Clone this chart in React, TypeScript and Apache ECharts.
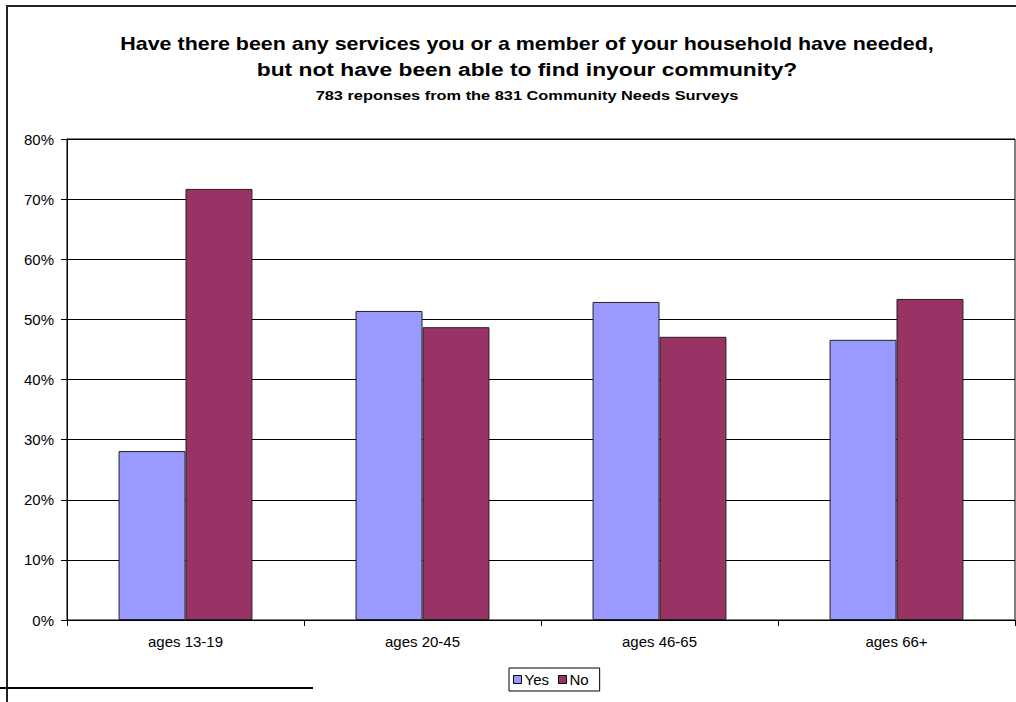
import React, { useEffect, useRef } from "react";
import * as echarts from "echarts";

const categories = ["ages 13-19", "ages 20-45", "ages 46-65", "ages 66+"];
const yesValues = [28.1, 51.4, 52.9, 46.6];
const noValues = [71.7, 48.7, 47.1, 53.4];
const titleLine1 = "Have there been any services you or a member of your household have needed,";
const titleLine2 = "but not have been able to find inyour community?";
const subtitle = "783 reponses from the 831 Community Needs Surveys";

const FONT = "'Liberation Sans', Arial, sans-serif";

export default function App() {
  const ref = useRef<HTMLDivElement>(null);
  useEffect(() => {
    if (!ref.current) return;
    const chart = echarts.init(ref.current, undefined, { renderer: "svg" });
    const titleText = (text: string, y: number, size: number, sx: number) => ({
      type: "text",
      x: 527,
      y,
      scaleX: sx,
      style: {
        text,
        fontFamily: FONT,
        fontSize: size,
        fontWeight: "bold",
        fill: "#000",
        textAlign: "center",
        textVerticalAlign: "middle",
      },
    });
    chart.setOption({
      animation: false,
      backgroundColor: "#fff",
      textStyle: { fontFamily: FONT },
      graphic: [
        {
          type: "rect",
          shape: { x: 7, y: 6, width: 1100, height: 800 },
          style: { fill: "none", stroke: "#222", lineWidth: 2 },
          silent: true,
        },
        {
          type: "line",
          shape: { x1: 0, y1: 688, x2: 313, y2: 688 },
          style: { stroke: "#000", lineWidth: 2 },
        },
        titleText(titleLine1, 43, 19, 1.128),
        titleText(titleLine2, 69, 19, 1.2),
        titleText(subtitle, 96, 13, 1.26),
      ],
      legend: {
        data: ["Yes", "No"],
        left: 509,
        top: 668,
        orient: "horizontal",
        itemWidth: 8,
        itemHeight: 8,
        itemGap: 9,
        padding: [4, 11, 4, 4],
        borderColor: "#000",
        borderWidth: 1,
        icon: "rect",
        itemStyle: { borderColor: "#000", borderWidth: 1 },
        textStyle: { fontFamily: FONT, fontSize: 15, color: "#000", padding: [0, 0, 0, -2] },
      },
      grid: {
        left: 67,
        right: 1,
        top: 139,
        bottom: 82,
        show: true,
        borderColor: "#000",
        borderWidth: 1,
        backgroundColor: "transparent",
      },
      xAxis: {
        type: "category",
        data: categories,
        axisLine: { lineStyle: { color: "#000", width: 1 } },
        axisTick: { show: true, length: 6, lineStyle: { color: "#000" } },
        axisLabel: { fontFamily: FONT, fontSize: 15, color: "#000", margin: 14 },
      },
      yAxis: {
        type: "value",
        min: 0,
        max: 80,
        interval: 10,
        axisLine: { show: true, lineStyle: { color: "#000", width: 1 } },
        axisTick: { show: true, length: 6, lineStyle: { color: "#000" } },
        axisLabel: {
          fontFamily: FONT,
          fontSize: 15,
          color: "#000",
          margin: 13,
          formatter: (v: number) => v + "%",
        },
        splitLine: { show: true, lineStyle: { color: "#000", width: 1 } },
      },
      series: [
        {
          name: "Yes",
          type: "bar",
          data: yesValues,
          barGap: "0%",
          barCategoryGap: "43.5%",
          itemStyle: { color: "#9999FF", borderColor: "#222", borderWidth: 1 },
        },
        {
          name: "No",
          type: "bar",
          data: noValues,
          barGap: "0%",
          barCategoryGap: "43.5%",
          itemStyle: { color: "#993366", borderColor: "#222", borderWidth: 1 },
        },
      ],
    });
    return () => chart.dispose();
  }, []);
  return (
    <div
      ref={ref}
      style={{ position: "fixed", left: 0, top: 0, width: 1016, height: 702 }}
    />
  );
}
